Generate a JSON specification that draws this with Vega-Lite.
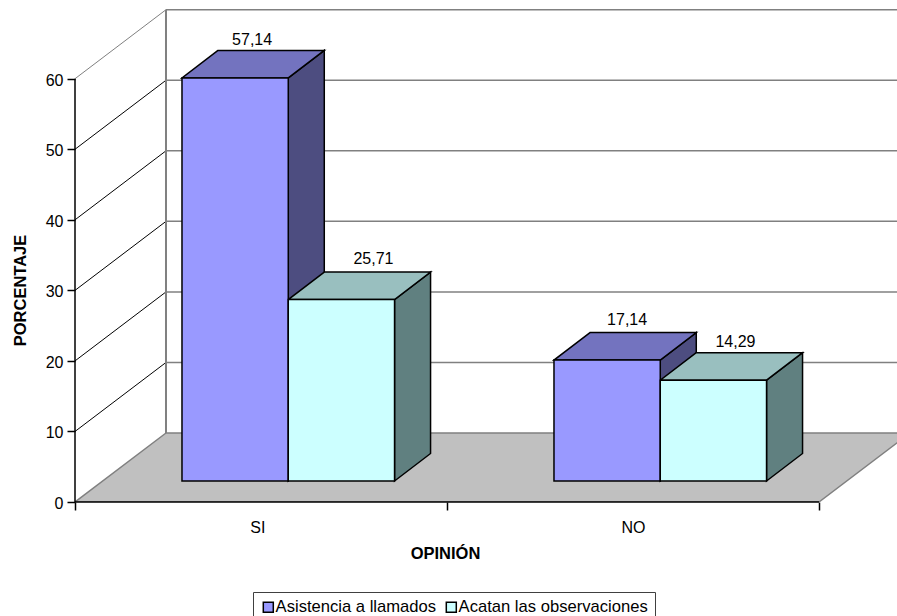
{
"$schema":"https://vega.github.io/schema/vega-lite/v6.json",
"width":822,"height":497,
"autosize":{"type":"none"},
"padding":{"left":75,"top":5,"right":0,"bottom":114},
"background":"white",
"config":{"view":{"stroke":null},"font":"Liberation Sans","text":{"font":"Liberation Sans"}},
"datasets":{
 "bars":[
  {"opinion":"SI","serie":"Asistencia a llamados","value":57.14},
  {"opinion":"SI","serie":"Acatan las observaciones","value":25.71},
  {"opinion":"NO","serie":"Asistencia a llamados","value":17.14},
  {"opinion":"NO","serie":"Acatan las observaciones","value":14.29}
 ],
 "grid":[{"v":10},{"v":20},{"v":30},{"v":40},{"v":50},{"v":60}]
},
"layer":[
 {"data":{"name":"grid"},
  "transform":[{"calculate":"0.2446","as":"xa"},{"calculate":"2.2446","as":"xb"},{"calculate":"datum.v+9.78","as":"yy"}],
  "mark":{"type":"rule","color":"#808080","strokeWidth":1.5,"clip":true},
  "encoding":{
   "x":{"field":"xa","type":"quantitative","scale":{"domain":[0,2.2097],"nice":false,"zero":false},
     "axis":{"values":[0,0.49,1,1.5,2],"title":"OPINIÓN","domain":false,"grid":false,"tickColor":"black","tickWidth":1.5,"tickSize":8,
      "tickOpacity":{"condition":{"test":"datum.value==0.49||datum.value==1.5","value":0},"value":1},
      "labelExpr":"datum.value==0.49?'SI':(datum.value==1.5?'NO':'')","labelFont":"Liberation Sans","labelFontSize":16,"labelColor":"black","labelPadding":9,"labelFlush":false,"labelOverlap":false,
      "titleFont":"Liberation Sans","titleFontSize":16.5,"titleFontWeight":"bold","titleColor":"black","titleX":370,"titleY":43}},
   "x2":{"field":"xb"},
   "y":{"field":"yy","type":"quantitative","scale":{"domain":[0,70.45],"nice":false,"zero":false},
     "axis":{"values":[0,10,20,30,40,50,60],"title":"PORCENTAJE","domain":false,"grid":false,"tickColor":"black","tickWidth":1.5,"tickSize":8,
      "labelFont":"Liberation Sans","labelFontSize":16,"labelColor":"black","labelPadding":4,"labelOffset":1.5,
      "titleFont":"Liberation Sans","titleFontSize":16.5,"titleFontWeight":"bold","titleColor":"black","titleX":-47,"titleY":285}}
  }},
 {"data":{"name":"grid"},
  "transform":[{"calculate":"[0,1]","as":"t"},{"flatten":["t"]},{"calculate":"datum.t*0.2446","as":"xs"},{"calculate":"datum.v+datum.t*9.78","as":"ys"}],
  "mark":{"type":"line","strokeWidth":1,"clip":true},
  "encoding":{
   "x":{"field":"xs","type":"quantitative"},
   "y":{"field":"ys","type":"quantitative"},
   "detail":{"field":"v"},
   "color":{"condition":{"test":"datum.v==60","value":"#808080"},"value":"black"}
  }},
 {"data":{"values":[{"v0":0,"v1":60}]},
  "transform":[{"calculate":"0.2446","as":"xa"},{"calculate":"datum.v0+9.78","as":"y0"},{"calculate":"datum.v1+9.78","as":"y1"}],
  "mark":{"type":"rule","color":"#808080","strokeWidth":2},
  "encoding":{"x":{"field":"xa","type":"quantitative"},"y":{"field":"y0","type":"quantitative"},"y2":{"field":"y1"}}},
 {"data":{"values":[{"t":0},{"t":1}]},
  "transform":[{"calculate":"datum.t*0.2446","as":"xa"},{"calculate":"2+datum.t*0.2446","as":"xb"},{"calculate":"datum.t*9.78","as":"yy"}],
  "mark":{"type":"area","orient":"horizontal","fill":"#C0C0C0","stroke":"#808080","strokeWidth":1.5,"clip":true},
  "encoding":{"y":{"field":"yy","type":"quantitative"},"x":{"field":"xa","type":"quantitative"},"x2":{"field":"xb"}}},
 {"data":{"values":[{"a":0,"b":2}]},
  "mark":{"type":"rule","color":"black","strokeWidth":1.5},
  "transform":[{"calculate":"0","as":"z"}],
  "encoding":{"x":{"field":"a","type":"quantitative"},"x2":{"field":"b"},"y":{"field":"z","type":"quantitative"}}},
 {"data":{"values":[{"a":0,"b":60}]},
  "mark":{"type":"rule","color":"black","strokeWidth":1.5},
  "transform":[{"calculate":"0","as":"z"}],
  "encoding":{"y":{"field":"a","type":"quantitative"},"y2":{"field":"b"},"x":{"field":"z","type":"quantitative"}}},
 {"data":{"name":"bars"},
  "transform":[
   {"calculate":"(datum.opinion=='SI'?0:1)+0.2876+(datum.serie=='Asistencia a llamados'?0:0.2857)+0.2857","as":"x1"},
   {"calculate":"2.977","as":"base"},
   {"calculate":"[0,1]","as":"t"},{"flatten":["t"]},
   {"calculate":"datum.x1+datum.t*0.0968","as":"xs"},
   {"calculate":"datum.base+datum.t*3.9","as":"yb"},
   {"calculate":"datum.base+datum.value+datum.t*3.9","as":"yt"}
  ],
  "mark":{"type":"area","stroke":"black","strokeWidth":1.5},
  "encoding":{
   "x":{"field":"xs","type":"quantitative"},
   "y":{"field":"yb","type":"quantitative"},"y2":{"field":"yt"},
   "detail":[{"field":"opinion"},{"field":"serie"}],
   "fill":{"condition":{"test":"datum.serie=='Asistencia a llamados'","value":"#4D4D80"},"value":"#608080"}
  }},
 {"data":{"name":"bars"},
  "transform":[
   {"calculate":"(datum.opinion=='SI'?0:1)+0.2876+(datum.serie=='Asistencia a llamados'?0:0.2857)","as":"x0"},
   {"calculate":"datum.x0+0.2857","as":"x1"},
   {"calculate":"2.977+datum.value","as":"top"},
   {"calculate":"[0,1]","as":"t"},{"flatten":["t"]},
   {"calculate":"datum.x0+datum.t*0.0968","as":"xa"},
   {"calculate":"datum.x1+datum.t*0.0968","as":"xb"},
   {"calculate":"datum.top+datum.t*3.9","as":"yy"}
  ],
  "mark":{"type":"area","orient":"horizontal","stroke":"black","strokeWidth":1.5},
  "encoding":{
   "y":{"field":"yy","type":"quantitative"},
   "x":{"field":"xa","type":"quantitative"},"x2":{"field":"xb"},
   "detail":[{"field":"opinion"},{"field":"serie"}],
   "fill":{"condition":{"test":"datum.serie=='Asistencia a llamados'","value":"#7373BF"},"value":"#99BFBF"}
  }},
 {"data":{"name":"bars"},
  "transform":[
   {"calculate":"(datum.opinion=='SI'?0:1)+0.2876+(datum.serie=='Asistencia a llamados'?0:0.2857)","as":"x0"},
   {"calculate":"datum.x0+0.2857","as":"x1"},
   {"calculate":"2.977","as":"base"},
   {"calculate":"datum.base+datum.value","as":"top"}
  ],
  "mark":{"type":"rect","stroke":"black","strokeWidth":1.5},
  "encoding":{
   "x":{"field":"x0","type":"quantitative"},"x2":{"field":"x1"},
   "y":{"field":"base","type":"quantitative"},"y2":{"field":"top"},
   "fill":{"field":"serie","type":"nominal",
     "scale":{"domain":["Asistencia a llamados","Acatan las observaciones"],"range":["#9999FF","#CCFFFF"]},
     "legend":{"title":null,"orient":"none","legendX":178,"legendY":587,"direction":"horizontal","columns":2,
      "symbolType":"square","symbolSize":100,"symbolStrokeColor":"black","symbolStrokeWidth":1.5,
      "labelFont":"Liberation Sans","labelFontSize":16.6,"labelColor":"black","labelLimit":300,"labelOffset":-1,
      "strokeColor":"#404040","fillColor":"white","padding":7,"columnPadding":6,"rowPadding":0,"symbolOffset":0}}
  }},
 {"data":{"name":"bars"},
  "transform":[
   {"calculate":"(datum.opinion=='SI'?0:1)+0.2876+(datum.serie=='Asistencia a llamados'?0:0.2857)","as":"x0"},
   {"calculate":"datum.x0+0.2857/2+0.0484+({'57.14':-1,'25.71':14,'17.14':2,'14.29':4})[''+datum.value]/372","as":"lx"},
   {"calculate":"2.977+datum.value+3.9-({'57.14':2.5,'25.71':0,'17.14':0,'14.29':2})[''+datum.value]/7.055","as":"ly"},
   {"calculate":"replace(format(datum.value,'.2f'),'.',',')","as":"lab"}
  ],
  "mark":{"type":"text","font":"Liberation Sans","fontSize":16,"color":"black","align":"center","baseline":"middle","dy":-13},
  "encoding":{
   "x":{"field":"lx","type":"quantitative"},
   "y":{"field":"ly","type":"quantitative"},
   "text":{"field":"lab"}
  }}
]
}
